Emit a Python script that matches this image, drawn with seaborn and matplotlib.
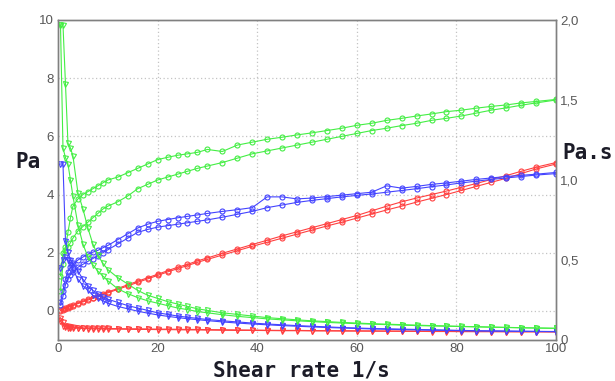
import matplotlib
matplotlib.use("Agg")
import matplotlib.pyplot as plt
import seaborn as sns
from matplotlib.ticker import FixedLocator, FuncFormatter

# shear rate points (1/s), same for ramp up and ramp down
SHEAR = [0.5, 1, 1.5, 2, 2.5, 3, 4, 5, 6, 7, 8, 9, 10, 12, 14, 16, 18, 20, 22, 24,
         26, 28, 30, 33, 36, 39, 42, 45, 48, 51, 54, 57, 60, 63, 66, 69, 72, 75,
         78, 81, 84, 87, 90, 93, 96, 100]

# shear stress, Pa (left axis)
GREEN_STRESS_UP = [0.7, 1.6, 2.2, 2.7, 3.2, 3.6, 3.85, 4.0, 4.1, 4.2, 4.3, 4.4, 4.5,
                   4.6, 4.75, 4.9, 5.05, 5.2, 5.28, 5.35, 5.4, 5.45, 5.55, 5.48, 5.7,
                   5.8, 5.9, 5.97, 6.05, 6.12, 6.2, 6.28, 6.38, 6.45, 6.55, 6.62, 6.7,
                   6.77, 6.85, 6.9, 6.97, 7.03, 7.08, 7.15, 7.2, 7.27]
GREEN_STRESS_DOWN = [1.2, 2.0, 2.1, 2.2, 2.35, 2.5, 2.75, 2.9, 3.05, 3.2, 3.35, 3.5,
                     3.6, 3.75, 3.95, 4.2, 4.35, 4.5, 4.6, 4.7, 4.8, 4.9, 4.98, 5.1,
                     5.25, 5.4, 5.5, 5.6, 5.7, 5.8, 5.9, 6.0, 6.1, 6.2, 6.28, 6.37,
                     6.45, 6.55, 6.62, 6.7, 6.8, 6.9, 6.98, 7.07, 7.15, 7.25]
BLUE_STRESS_UP = [0.3, 0.7, 1.1, 1.35, 1.5, 1.6, 1.75, 1.85, 1.95, 2.02, 2.08, 2.17,
                  2.25, 2.45, 2.65, 2.85, 2.98, 3.08, 3.14, 3.2, 3.25, 3.3, 3.35, 3.42,
                  3.48, 3.55, 3.92, 3.92, 3.85, 3.88, 3.93, 3.98, 4.03, 4.08, 4.3,
                  4.22, 4.28, 4.35, 4.4, 4.46, 4.52, 4.57, 4.62, 4.66, 4.7, 4.76]
BLUE_STRESS_DOWN = [0.2, 0.5, 0.9, 1.1, 1.25, 1.35, 1.5, 1.6, 1.7, 1.8, 1.9, 2.0,
                    2.1, 2.3, 2.5, 2.7, 2.8, 2.88, 2.93, 2.98, 3.03, 3.08, 3.13, 3.22,
                    3.32, 3.42, 3.55, 3.64, 3.73, 3.8, 3.86, 3.92, 3.97, 4.02, 4.08,
                    4.14, 4.2, 4.27, 4.33, 4.4, 4.46, 4.52, 4.57, 4.62, 4.67, 4.72]
RED_STRESS_UP = [0.02, 0.05, 0.1, 0.13, 0.17, 0.2, 0.27, 0.33, 0.4, 0.46, 0.52, 0.58,
                 0.65, 0.77, 0.9, 1.02, 1.14, 1.26, 1.38, 1.5, 1.6, 1.72, 1.82, 1.98,
                 2.13, 2.28, 2.43, 2.58, 2.72, 2.86, 3.0, 3.14, 3.28, 3.44, 3.6, 3.75,
                 3.88, 4.0, 4.12, 4.25, 4.38, 4.52, 4.65, 4.8, 4.94, 5.1]
RED_STRESS_DOWN = [0.01, 0.04, 0.08, 0.11, 0.15, 0.18, 0.25, 0.31, 0.37, 0.43, 0.49,
                   0.55, 0.62, 0.74, 0.86, 0.98, 1.1, 1.22, 1.34, 1.45, 1.56, 1.67,
                   1.77, 1.92, 2.07, 2.22, 2.36, 2.5, 2.64, 2.78, 2.92, 3.05, 3.19,
                   3.33, 3.47, 3.6, 3.74, 3.87, 4.0, 4.14, 4.28, 4.42, 4.56, 4.72,
                   4.88, 5.05]

# viscosity, Pa.s (right axis)
GREEN_VISC_UP = [1.97, 1.97, 1.6, 1.23, 1.2, 1.15, 0.92, 0.82, 0.7, 0.6, 0.53, 0.48,
                 0.44, 0.39, 0.35, 0.31, 0.28, 0.26, 0.24, 0.225, 0.21, 0.195, 0.185,
                 0.17, 0.16, 0.15, 0.14, 0.133, 0.126, 0.12, 0.115, 0.11, 0.106,
                 0.102, 0.099, 0.096, 0.093, 0.09, 0.088, 0.085, 0.083, 0.081,
                 0.079, 0.077, 0.075, 0.073]
GREEN_VISC_DOWN = [1.97, 1.2, 1.14, 1.1, 1.0, 0.9, 0.72, 0.6, 0.52, 0.47, 0.43, 0.4,
                   0.37, 0.32, 0.29, 0.265, 0.245, 0.23, 0.215, 0.2, 0.19, 0.178,
                   0.17, 0.158, 0.148, 0.14, 0.132, 0.126, 0.12, 0.115, 0.11, 0.106,
                   0.102, 0.099, 0.096, 0.093, 0.09, 0.088, 0.086, 0.084, 0.082,
                   0.08, 0.078, 0.076, 0.075, 0.073]
BLUE_VISC_UP = [1.1, 1.1, 0.62, 0.55, 0.5, 0.48, 0.43, 0.38, 0.34, 0.31, 0.29, 0.27,
                0.255, 0.235, 0.215, 0.2, 0.185, 0.17, 0.16, 0.15, 0.142, 0.135,
                0.128, 0.12, 0.113, 0.106, 0.1, 0.095, 0.09, 0.086, 0.082, 0.078,
                0.075, 0.072, 0.07, 0.068, 0.066, 0.064, 0.062, 0.06, 0.058, 0.057,
                0.056, 0.055, 0.054, 0.053]
BLUE_VISC_DOWN = [0.45, 0.5, 0.52, 0.5, 0.47, 0.44, 0.38, 0.34, 0.31, 0.28, 0.26,
                  0.245, 0.23, 0.21, 0.195, 0.18, 0.168, 0.157, 0.148, 0.14, 0.133,
                  0.127, 0.121, 0.113, 0.106, 0.1, 0.095, 0.09, 0.086, 0.082, 0.078,
                  0.075, 0.072, 0.069, 0.067, 0.065, 0.063, 0.061, 0.06, 0.058,
                  0.057, 0.056, 0.055, 0.054, 0.053, 0.052]
RED_VISC_UP = [0.14, 0.11, 0.09, 0.085, 0.082, 0.08, 0.078, 0.076, 0.075, 0.074,
               0.073, 0.072, 0.072, 0.071, 0.07, 0.07, 0.069, 0.068, 0.068, 0.067,
               0.066, 0.066, 0.065, 0.064, 0.063, 0.062, 0.061, 0.06, 0.06, 0.059,
               0.058, 0.058, 0.057, 0.057, 0.056, 0.056, 0.055, 0.055, 0.054, 0.054,
               0.053, 0.053, 0.053, 0.052, 0.052, 0.052]
RED_VISC_DOWN = [0.12, 0.09, 0.082, 0.078, 0.076, 0.075, 0.073, 0.072, 0.071, 0.07,
                 0.07, 0.069, 0.068, 0.068, 0.067, 0.066, 0.066, 0.065, 0.065, 0.064,
                 0.063, 0.063, 0.062, 0.061, 0.06, 0.06, 0.059, 0.058, 0.058, 0.057,
                 0.057, 0.056, 0.056, 0.055, 0.055, 0.054, 0.054, 0.053, 0.053,
                 0.052, 0.052, 0.052, 0.051, 0.051, 0.051, 0.05]

GREEN = '#44ee44'
BLUE = '#4444ff'
RED = '#ff4040'
TICK_GREY = '#585858'
LABEL_COLOR = '#1c1c28'

sns.set_style("white")
plt.rcParams['font.family'] = ['Liberation Sans', 'DejaVu Sans']

fig = plt.figure(figsize=(6.15, 3.81), dpi=100)
ax = fig.add_axes([58 / 615, 1 - 340 / 381, 498 / 615, 320 / 381])
ax2 = ax.twinx()


def draw(axis, y_up, y_down, color, marker):
    for ys, xs in ((y_up, SHEAR), (y_down[::-1], SHEAR[::-1])):
        sns.lineplot(x=xs, y=ys, ax=axis, sort=False, estimator=None, color=color,
                     linewidth=0.8, marker=marker, markersize=3.6,
                     markerfacecolor='none', markeredgecolor=color,
                     markeredgewidth=0.8)


draw(ax, RED_STRESS_UP, RED_STRESS_DOWN, RED, 'o')
draw(ax, BLUE_STRESS_UP, BLUE_STRESS_DOWN, BLUE, 'o')
draw(ax, GREEN_STRESS_UP, GREEN_STRESS_DOWN, GREEN, 'o')
draw(ax2, RED_VISC_UP, RED_VISC_DOWN, RED, 'v')
draw(ax2, BLUE_VISC_UP, BLUE_VISC_DOWN, BLUE, 'v')
draw(ax2, GREEN_VISC_UP, GREEN_VISC_DOWN, GREEN, 'v')

ax.set_xlim(0, 100)
ax.set_ylim(-1.0, 10.0)
ax2.set_ylim(0, 2.0)

ax.xaxis.set_major_locator(FixedLocator([0, 20, 40, 60, 80, 100]))
ax.yaxis.set_major_locator(FixedLocator([0, 2, 4, 6, 8, 10]))
ax2.yaxis.set_major_locator(FixedLocator([0, 0.5, 1.0, 1.5, 2.0]))
ax2.yaxis.set_major_formatter(
    FuncFormatter(lambda v, p: '0' if v == 0 else f'{v:.1f}'.replace('.', ',')))

for a in (ax, ax2):
    a.set_xlabel('')
    a.set_ylabel('')
    a.tick_params(length=0, labelsize=9.5, labelcolor=TICK_GREY)
    for s in a.spines.values():
        s.set_color('#808080')
        s.set_linewidth(1.0)
ax.tick_params(axis='y', pad=3)
ax.tick_params(axis='x', pad=2)
ax2.tick_params(axis='y', pad=3)

# dotted grid only at inner ticks
for xv in [20, 40, 60, 80]:
    ax.axvline(xv, color='#c4c4c4', linewidth=0.9, linestyle=(0, (1, 2)), zorder=0)
for yv in [0, 2, 4, 6, 8]:
    ax.axhline(yv, color='#c4c4c4', linewidth=0.9, linestyle=(0, (1, 2)), zorder=0)

mono = dict(family='DejaVu Sans Mono', fontweight='bold', color=LABEL_COLOR,
            fontsize=15)
fig.text(15 / 615, 1 - 162 / 381, 'Pa', ha='left', va='center', **mono)
fig.text(562 / 615, 1 - 153 / 381, 'Pa.s', ha='left', va='center', **mono)
fig.text(301 / 615, 1 - 370 / 381, 'Shear rate 1/s', ha='center', va='center', **mono)

fig.savefig('out.png', dpi=100)
